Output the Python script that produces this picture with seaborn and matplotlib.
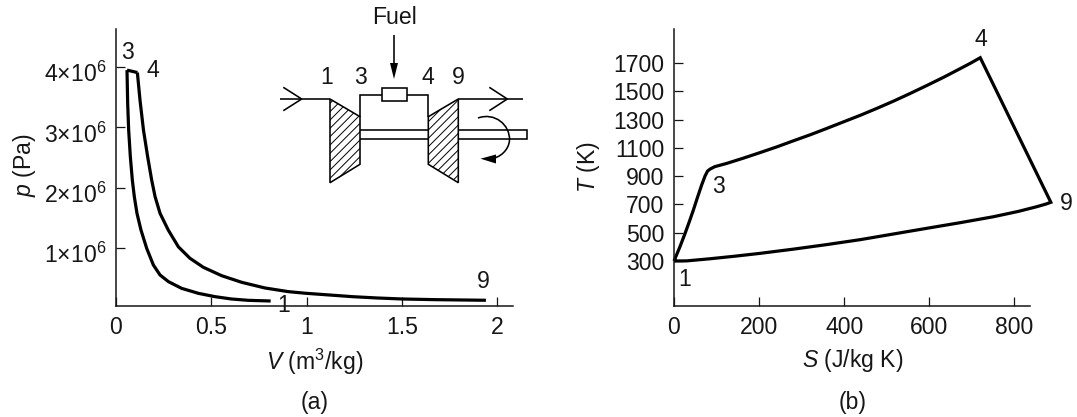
import matplotlib
matplotlib.use("Agg")
import matplotlib.pyplot as plt
import seaborn as sns
from matplotlib.patches import Polygon, Rectangle, PathPatch
from matplotlib.path import Path
from matplotlib.transforms import ScaledTranslation

# ---- p-V diagram values (V in m3/kg, p in units of 1e6 Pa) ----
compress_V = [0.0577, 0.0612, 0.0664, 0.0752, 0.0856, 0.0961, 0.110, 0.131, 0.161, 0.196, 0.231, 0.275, 0.344, 0.432, 0.519, 0.606, 0.694, 0.811]
compress_p = [3.95, 3.40, 2.957, 2.514, 2.128, 1.851, 1.575, 1.298, 0.994, 0.718, 0.552, 0.442, 0.331, 0.248, 0.193, 0.154, 0.132, 0.121]
combust_V = [0.0577, 0.112]
combust_p = [3.95, 3.91]
expand_V = [0.112, 0.126, 0.144, 0.166, 0.187, 0.205, 0.231, 0.274, 0.327, 0.388, 0.458, 0.554, 0.659, 0.781, 0.904, 0.995, 1.244, 1.370, 1.503, 1.680, 1.940]
expand_p = [3.91, 3.45, 2.957, 2.514, 2.128, 1.851, 1.575, 1.298, 1.02, 0.829, 0.68, 0.541, 0.431, 0.337, 0.276, 0.249, 0.192, 0.171, 0.154, 0.143, 0.133]
p_ticks = [1, 2, 3, 4]
p_ticklabels = [r"$\mathrm{1{\times}10^{6}}$", r"$\mathrm{2{\times}10^{6}}$", r"$\mathrm{3{\times}10^{6}}$", r"$\mathrm{4{\times}10^{6}}$"]
V_ticks = [0, 0.5, 1, 1.5, 2]
V_ticklabels = ["0", "0.5", "1", "1.5", "2"]

# ---- T-S diagram values ----
cycle_S = [0, 14, 26, 36, 45.5, 55, 65, 73, 79, 85, 96, 124, 163, 202, 242, 281, 320, 359, 398, 438, 477, 516, 555, 594, 634, 673, 697, 720,
           886, 875, 853, 810, 751, 673, 594, 516, 438, 359, 281, 202, 143, 85, 30, 0]
cycle_T = [300, 401, 495, 578, 660, 748, 837, 901, 936, 950, 967, 990, 1027, 1066, 1107, 1150, 1192, 1237, 1283, 1330, 1379, 1430, 1484, 1540, 1599, 1660, 1698, 1737,
           715, 703, 684, 651, 613, 571, 531, 491, 451, 416, 384, 354, 334, 316, 301, 300]
T_ticks = [300, 500, 700, 900, 1100, 1300, 1500, 1700]
S_ticks = [0, 200, 400, 600, 800]

INK = "#161616"
W, H = 1077, 417

sns.set_theme(style="white")
plt.rcParams.update({
    "font.family": ["Liberation Sans", "DejaVu Sans"],
    "mathtext.fontset": "custom",
    "mathtext.rm": "Liberation Sans",
    "mathtext.it": "Liberation Sans:italic",
    "mathtext.default": "regular",
    "font.size": 16.6,
    "text.color": INK,
    "axes.edgecolor": INK,
    "axes.labelcolor": INK,
    "xtick.color": INK,
    "ytick.color": INK,
    "hatch.linewidth": 0.7,
    "hatch.color": INK,
})

fig = plt.figure(figsize=(W / 100, H / 100), dpi=100, facecolor="white")


def axes_px(x0, x1, top, bottom):
    return fig.add_axes([x0 / W, 1 - bottom / H, (x1 - x0) / W, (bottom - top) / H], facecolor="none")


def style(ax, xticks, xlabels, yticks, ylabels):
    sns.despine(ax=ax)
    for s in ("left", "bottom"):
        ax.spines[s].set_linewidth(1.1)
    ax.set_xticks(xticks, xlabels)
    ax.set_yticks(yticks, ylabels)
    ax.tick_params(axis="both", direction="in", length=6.5, width=0.9, labelsize=16.6,
                   left=True, bottom=True)
    ax.tick_params(axis="x", pad=7.5)
    ax.tick_params(axis="y", pad=7)


def trace(ax, x, y):
    sns.lineplot(x=x, y=y, ax=ax, sort=False, estimator=None, color="#000000", linewidth=2.3,
                 solid_joinstyle="miter", solid_capstyle="butt", legend=False, clip_on=False)


# (a)
ax_a = axes_px(116, 513, 29, 306)
trace(ax_a, compress_V, compress_p)
trace(ax_a, combust_V, combust_p)
trace(ax_a, expand_V, expand_p)
ax_a.set_xlim(0, 2.082)
ax_a.set_ylim(0.038, 4.632)
style(ax_a, V_ticks, V_ticklabels, p_ticks, p_ticklabels)
shift = ScaledTranslation(0, -5 / 100, fig.dpi_scale_trans)
for lab in ax_a.get_yticklabels():
    lab.set_transform(lab.get_transform() + shift)
ax_a.set_xlabel(r"$\mathit{V}$ (m$^{3}$/kg)", fontsize=16.6)
ax_a.set_ylabel(r"$\mathit{p}$ (Pa)", fontsize=16.6)
ax_a.xaxis.set_label_coords((315 - 116) / 397, -(362 - 306) / 277)
ax_a.xaxis.label.set_va("center")
ax_a.yaxis.set_label_coords((25 - 116) / 397, (306 - 165) / 277)
ax_a.yaxis.label.set_va("center")

# (b)
ax_b = axes_px(674, 1030, 29, 306)
trace(ax_b, cycle_S, cycle_T)
ax_b.set_xlim(0, 837)
ax_b.set_ylim(-18, 1940)
style(ax_b, S_ticks, [str(v) for v in S_ticks], T_ticks, [str(v) for v in T_ticks])
ax_b.set_xlabel(r"$\mathit{S}$ (J/kg K)", fontsize=16.6)
ax_b.set_ylabel(r"$\mathit{T}$ (K)", fontsize=16.6)
ax_b.xaxis.set_label_coords((853 - 674) / 356, -(361 - 306) / 277)
ax_b.xaxis.label.set_va("center")
ax_b.yaxis.set_label_coords((588 - 674) / 356, (306 - 167) / 277)
ax_b.yaxis.label.set_va("center")

# Overlay in figure pixels for the annotations and the engine schematic
ov = fig.add_axes([0, 0, 1, 1], facecolor="none")
ov.set_xlim(0, W)
ov.set_ylim(H, 0)
ov.axis("off")

labels = [("3", 127, 52), ("4", 153, 70), ("9", 483, 282), ("1", 284, 305),
          ("3", 718, 186), ("1", 685, 280), ("4", 981, 39), ("9", 1066, 203),
          ("1", 327, 77), ("3", 360, 77), ("4", 428, 77), ("9", 458, 77),
          ("Fuel", 395, 17), ("(a)", 315, 403), ("(b)", 853, 403)]
for s, x, y in labels:
    ov.text(x, y, s, ha="center", va="center", fontsize=16.6)

lw = 1.15
def seg(xs, ys):
    ov.plot(xs, ys, color="#000000", lw=lw, solid_capstyle="butt", solid_joinstyle="miter")

seg([280, 330], [99, 99])
seg([283.3, 301.7, 283.3], [87.3, 99, 110.7])
seg([360, 360, 382.3], [116.7, 95, 95])
seg([406.7, 428.3, 428.3], [95, 95, 116.7])
seg([458.3, 523.3], [99, 99])
seg([489.3, 507.3, 489.3], [87.3, 99, 110.7])
seg([360, 428.3], [130, 130])
seg([360, 428.3], [139, 139])
seg([458.3, 526.7, 526.7, 458.3], [130, 130, 139, 139])
seg([394, 394], [35, 66])

ov.add_patch(Rectangle((382.3, 87.7), 24.4, 13.3, fill=False, ec="#000000", lw=lw))
for pts in ([(330, 99), (360, 116.7), (360, 164.3), (330, 182.7)],
            [(428.3, 116.7), (458.3, 99), (458.3, 182.7), (428.3, 164.3)]):
    ov.add_patch(Polygon(pts, closed=True, fc="white", ec="#000000", lw=lw, hatch="////"))
ov.add_patch(Polygon([(394, 79), (390, 63), (398, 63)], closed=True, fc="#000000", ec="none"))

rotation = Path([(478, 118), (495, 112), (510, 125), (509.5, 140), (509, 150), (500, 158), (490, 159)],
                [Path.MOVETO, Path.CURVE4, Path.CURVE4, Path.CURVE4, Path.CURVE4, Path.CURVE4, Path.CURVE4])
ov.add_patch(PathPatch(rotation, fill=False, ec="#000000", lw=lw))
ov.add_patch(Polygon([(480.5, 158.7), (496, 154.5), (496, 163.5)], closed=True, fc="#000000", ec="none"))

fig.savefig("out.png", dpi=100, facecolor="white")
